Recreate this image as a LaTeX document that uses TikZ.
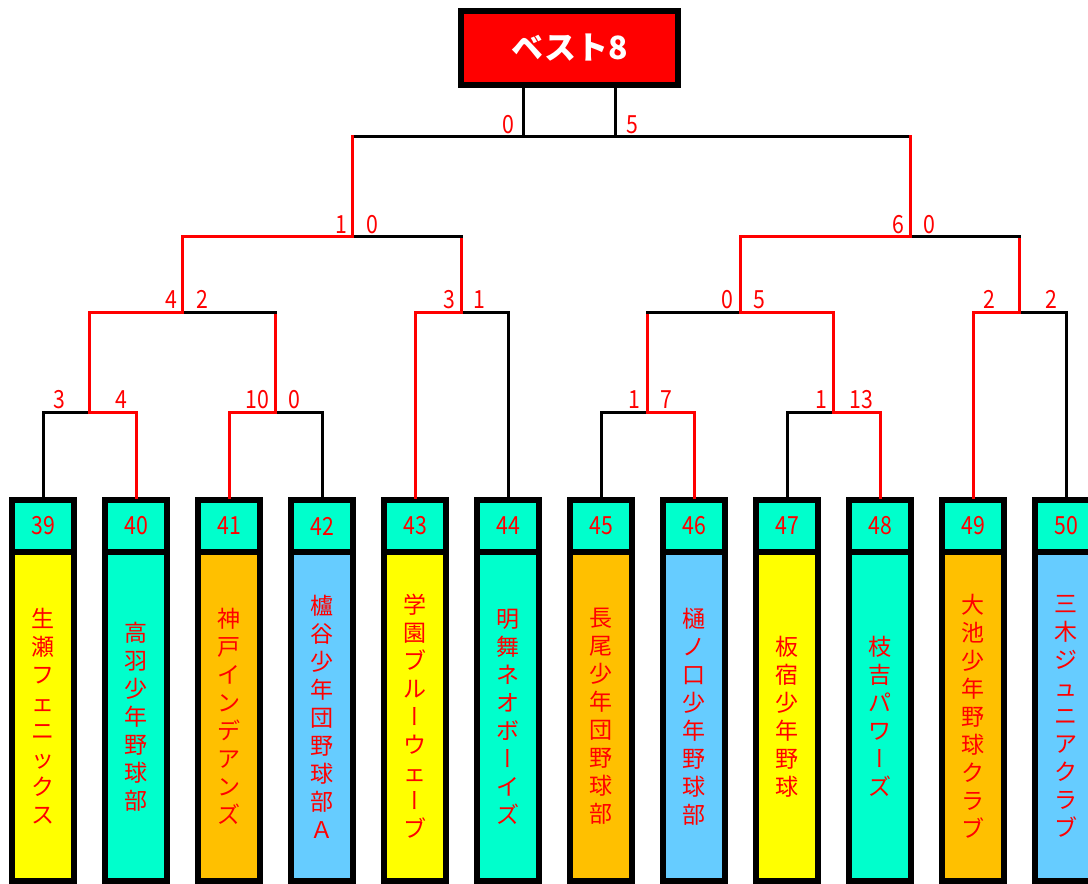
\documentclass[tikz,border=0pt]{standalone}
\usepackage{fontspec}
\usepackage{tikz}
\usetikzlibrary{positioning}

\newfontfamily\jp{Noto Sans CJK JP}
\newfontfamily\jpvert[RawFeature=+vert]{Noto Sans CJK JP}
\newfontfamily\jpnum[FakeStretch=0.85]{Noto Sans CJK JP}
\newcommand{\chou}{{\jpvert ー}}

\definecolor{numcyan}{HTML}{00FFCC}
\definecolor{teamyellow}{HTML}{FFFF00}
\definecolor{teamorange}{HTML}{FFC000}
\definecolor{teamblue}{HTML}{66CCFF}

\begin{document}
\begin{tikzpicture}[
    x=1pt, y=-1pt,
    titlebox/.style={rectangle, draw, line width=6pt, fill=red, minimum width=217pt, minimum height=74pt, inner sep=0pt, text=white, font=\jp\bfseries\fontsize{32}{32}\selectfont},
    numbox/.style={rectangle, draw, line width=6pt, fill=numcyan, minimum width=62pt, minimum height=52pt, inner sep=0pt, text=red, font=\jpnum\fontsize{25}{25}\selectfont},
    namebox/.style={rectangle, draw, line width=6pt, minimum width=62pt, minimum height=329pt, inner sep=0pt, text=red, align=center, font=\jp\fontsize{23}{28}\selectfont},
    score/.style={anchor=base, inner sep=0pt, text=red, font=\jpnum\fontsize{25}{25}\selectfont},
    win/.style={draw=red, line width=3pt, line cap=rect},
    lose/.style={draw=black, line width=3pt, line cap=rect}
]
\useasboundingbox (0,0) rectangle (1088,884);

% Title
\node[titlebox] (title) at (569.5,48) {ベスト8};

% Teams
\foreach \id/\team/\col [count=\k from 0] in {
    39/{生\\瀬\\フ\\ェ\\ニ\\ッ\\ク\\ス}/teamyellow,
    40/{高\\羽\\少\\年\\野\\球\\部}/numcyan,
    41/{神\\戸\\イ\\ン\\デ\\ア\\ン\\ズ}/teamorange,
    42/{櫨\\谷\\少\\年\\団\\野\\球\\部\\Ａ}/teamblue,
    43/{学\\園\\ブ\\ル\\\chou\\ウ\\ェ\\\chou\\ブ}/teamyellow,
    44/{明\\舞\\ネ\\オ\\ボ\\\chou\\イ\\ズ}/numcyan,
    45/{長\\尾\\少\\年\\団\\野\\球\\部}/teamorange,
    46/{樋\\ノ\\口\\少\\年\\野\\球\\部}/teamblue,
    47/{板\\宿\\少\\年\\野\\球}/teamyellow,
    48/{枝\\吉\\パ\\ワ\\\chou\\ズ}/numcyan,
    49/{大\\池\\少\\年\\野\\球\\ク\\ラ\\ブ}/teamorange,
    50/{三\\木\\ジ\\ュ\\ニ\\ア\\ク\\ラ\\ブ}/teamblue}
{
    \node[numbox] (n\id) at (43+93*\k,526) {\id};
    \node[namebox, fill=\col] (t\id) at (43+93*\k,716.5) {\team};
}

% Junctions
\coordinate (j1) at (89.5,412);
\coordinate (j2) at (275.5,412);
\coordinate (j3) at (647.5,412);
\coordinate (j4) at (833.5,412);
\coordinate (j5) at (182,312);
\coordinate (j6) at (461.5,312);
\coordinate (j7) at (740,312);
\coordinate (j8) at (1019.5,312);
\coordinate (j9) at (352,236);
\coordinate (j10) at (910,236);
\coordinate (fl) at (523,136);
\coordinate (fr) at (615,136);

% First round
\draw[lose] (n39.north) |- (j1);
\draw[win] (n40.north) |- (j1);
\draw[lose] (n42.north) |- (j2);
\draw[win] (n41.north) |- (j2);
\draw[lose] (n45.north) |- (j3);
\draw[win] (n46.north) |- (j3);
\draw[lose] (n47.north) |- (j4);
\draw[win] (n48.north) |- (j4);

% Second round
\draw[win] (j2) -- (j2 |- j5);
\draw[lose] (j2 |- j5) -- (j5);
\draw[win] (j1) |- (j5);
\draw[lose] (n44.north) |- (j6);
\draw[win] (n43.north) |- (j6);
\draw[win] (j3) -- (j3 |- j7);
\draw[lose] (j3 |- j7) -- (j7);
\draw[win] (j4) |- (j7);
\draw[lose] (n50.north) |- (j8);
\draw[win] (n49.north) |- (j8);

% Semi finals
\draw[win] (j6) -- (j6 |- j9);
\draw[lose] (j6 |- j9) -- (j9);
\draw[win] (j5) |- (j9);
\draw[win] (j8) -- (j8 |- j10);
\draw[lose] (j8 |- j10) -- (j10);
\draw[win] (j7) |- (j10);

% Final
\draw[lose] (j9 |- fl) -- (j10 |- fl);
\draw[win] (j9) -- (j9 |- fl);
\draw[win] (j10) -- (j10 |- fl);
\draw[lose] (fl) -- (fl |- title.south);
\draw[lose] (fr) -- (fr |- title.south);

% Scores
\node[score] (s1) at (59,408) {3};
\node[score] (s2) at (121,408) {4};
\node[score] (s3) at (257,408) {10};
\node[score] (s4) at (294,408) {0};
\node[score] (s5) at (634,408) {1};
\node[score] (s6) at (666,408) {7};
\node[score] (s7) at (821,408) {1};
\node[score] (s8) at (861,408) {13};
\node[score] (s9) at (171,308) {4};
\node[score] (s10) at (202,308) {2};
\node[score] (s11) at (449,308) {3};
\node[score] (s12) at (479,308) {1};
\node[score] (s13) at (727,308) {0};
\node[score] (s14) at (759,308) {5};
\node[score] (s15) at (989,308) {2};
\node[score] (s16) at (1051,308) {2};
\node[score] (s17) at (341,233) {1};
\node[score] (s18) at (372,233) {0};
\node[score] (s19) at (898,233) {6};
\node[score] (s20) at (929,233) {0};
\node[score] (s21) at (508,133) {0};
\node[score] (s22) at (632,133) {5};

\end{tikzpicture}
\end{document}
